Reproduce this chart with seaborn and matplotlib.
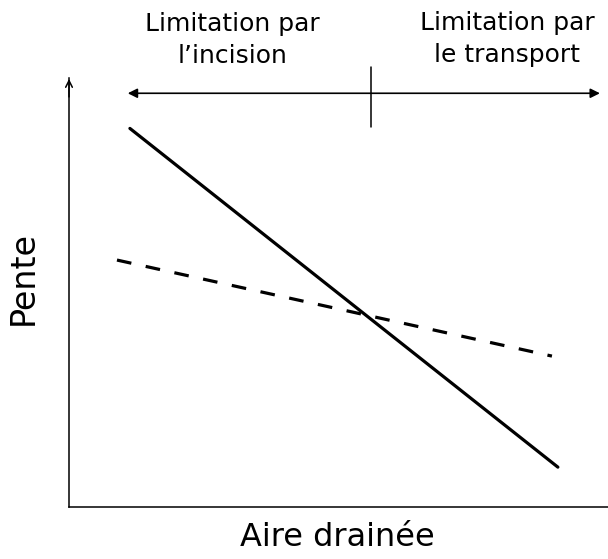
import matplotlib
matplotlib.use('Agg')
import matplotlib.pyplot as plt
import seaborn as sns

# donnees du schema (unites arbitraires)
aire_continue = [1.13, 9.07]
pente_continue = [8.83, 0.93]
aire_tirets = [0.89, 8.96]
pente_tirets = [5.76, 3.52]
seuil_aire = 5.60
fleche_aire = [1.09, 9.85]
fleche_pente = 9.65

label_incision = "Limitation par\nl\u2019incision"
label_transport = "Limitation par\nle transport"
label_x = "Aire drainée"
label_y = "Pente"

sns.set_theme(style="white")
plt.rcParams['font.family'] = ['DejaVu Sans']
plt.rcParams['text.color'] = 'black'

fig = plt.figure(figsize=(6.08, 5.59), dpi=100)
ax = fig.add_axes([0.1135, 0.093, 0.8865, 0.767])

sns.lineplot(x=aire_continue, y=pente_continue, ax=ax, color='black', linewidth=2.3)
sns.lineplot(x=aire_tirets, y=pente_tirets, ax=ax, color='black', linewidth=2.3,
             linestyle=(0, (4.6, 4.6)))

ax.set_xlim(0, 10)
ax.set_ylim(0, 10)
ax.set_xticks([])
ax.set_yticks([])
sns.despine(ax=ax, top=True, right=True)
for s in ['left', 'bottom']:
    ax.spines[s].set_color('black')
    ax.spines[s].set_linewidth(1.1)

# fleche axe y
ax.annotate('', xy=(0, 1.005), xytext=(0, 0.95), xycoords='axes fraction',
            arrowprops=dict(arrowstyle='->', color='black', lw=1.1, mutation_scale=12),
            annotation_clip=False)

# double fleche + separation
ax.annotate('', xy=(fleche_aire[1], fleche_pente), xytext=(fleche_aire[0], fleche_pente),
            arrowprops=dict(arrowstyle='<|-|>', color='black', lw=1.2, mutation_scale=14,
                            shrinkA=0, shrinkB=0),
            annotation_clip=False)
ax.plot([seuil_aire, seuil_aire], [8.86, 10.26], color='black', lw=1.1, clip_on=False)

fig.text(0.383, 0.928, label_incision, ha='center', va='center', fontsize=18,
         linespacing=1.4, color='black')
fig.text(0.834, 0.930, label_transport, ha='center', va='center', fontsize=18,
         linespacing=1.4, color='black')
fig.text(0.038, 0.503, label_y, ha='center', va='center', fontsize=24, rotation=90,
         color='black')
fig.text(0.555, 0.039, label_x, ha='center', va='center', fontsize=23, color='black')

fig.savefig('out.png', dpi=100)
